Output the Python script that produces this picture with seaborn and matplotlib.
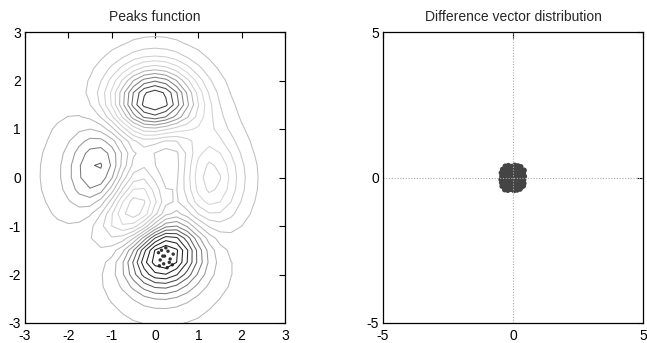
import numpy as np
import matplotlib
matplotlib.use("Agg")
import matplotlib.pyplot as plt
import seaborn as sns

sns.set_theme(style="white")
plt.rcParams["font.family"] = ["Liberation Sans", "DejaVu Sans"]
plt.rcParams["axes.unicode_minus"] = False

# --- data ---
GRID_N = 25          # resolution of the peaks surface
N_LEVELS = 20        # number of contour levels
LEFT_TICKS = [-3, -2, -1, 0, 1, 2, 3]
RIGHT_TICKS = [-5, 0, 5]

# population sitting in the global minimum of the peaks surface
swarm_x = [0.08, 0.15, 0.22, 0.12, 0.30, 0.35, 0.20, 0.40, 0.28, 0.10, 0.42, 0.18, 0.33, 0.25]
swarm_y = [-1.55, -1.50, -1.62, -1.70, -1.52, -1.68, -1.78, -1.80, -1.86, -1.82, -1.58, -1.62, -1.75, -1.45]

# difference vectors between population members
diff_x = [
    -0.30, -0.18, -0.05, 0.07, 0.19, 0.30,
    -0.40, -0.27, -0.16, -0.03, 0.09, 0.21, 0.33, 0.43,
    -0.45, -0.33, -0.20, -0.08, 0.04, 0.16, 0.28, 0.40,
    -0.43, -0.30, -0.18, -0.06, 0.07, 0.19, 0.31, 0.44,
    -0.46, -0.34, -0.22, -0.09, 0.03, 0.15, 0.27, 0.41,
    -0.44, -0.31, -0.19, -0.06, 0.06, 0.18, 0.30, 0.42,
    -0.42, -0.29, -0.16, -0.04, 0.09, 0.21, 0.33, 0.40,
    -0.32, -0.20, -0.08, 0.04, 0.16, 0.27,
]
diff_y = [
    0.39, 0.41, 0.38, 0.42, 0.40, 0.37,
    0.28, 0.31, 0.27, 0.30, 0.29, 0.32, 0.27, 0.25,
    0.16, 0.18, 0.15, 0.19, 0.17, 0.14, 0.18, 0.16,
    0.05, 0.03, 0.07, 0.04, 0.06, 0.02, 0.05, 0.04,
    -0.07, -0.05, -0.08, -0.06, -0.09, -0.05, -0.07, -0.08,
    -0.18, -0.21, -0.17, -0.20, -0.19, -0.22, -0.18, -0.20,
    -0.30, -0.32, -0.29, -0.33, -0.31, -0.30, -0.33, -0.29,
    -0.42, -0.44, -0.41, -0.45, -0.43, -0.40,
]


def peaks(n):
    v = np.linspace(-3, 3, n)
    X, Y = np.meshgrid(v, v)
    Z = (3 * (1 - X) ** 2 * np.exp(-X ** 2 - (Y + 1) ** 2)
         - 10 * (X / 5 - X ** 3 - Y ** 5) * np.exp(-X ** 2 - Y ** 2)
         - 1 / 3 * np.exp(-(X + 1) ** 2 - Y ** 2))
    return X, Y, Z


def style_axes(ax, ticks):
    ax.set_xlim(ticks[0], ticks[-1])
    ax.set_ylim(ticks[0], ticks[-1])
    ax.set_xticks(ticks)
    ax.set_yticks(ticks)
    ax.tick_params(direction="in", length=4, width=0.8, top=True, right=True,
                   labelsize=10, colors="black")
    ax.tick_params(axis="x", pad=4)
    ax.tick_params(axis="y", pad=3)
    for s in ax.spines.values():
        s.set_color("black")
        s.set_linewidth(0.9)


fig = plt.figure(figsize=(6.47, 3.43), dpi=100)
ax1 = fig.add_axes([25 / 647, 1 - 323 / 343, 260 / 647, 291 / 343])
ax2 = fig.add_axes([383 / 647, 1 - 323 / 343, 260 / 647, 291 / 343])

# --- left: contour map, jet colours seen in grayscale ---
X, Y, Z = peaks(GRID_N)
levels = np.linspace(Z.min(), Z.max(), N_LEVELS + 2)[1:-1]
jet = plt.get_cmap("jet")
t = (levels - Z.min()) / (Z.max() - Z.min())
rgb = jet(t)[:, :3]
lum = 0.299 * rgb[:, 0] + 0.587 * rgb[:, 1] + 0.114 * rgb[:, 2]
grays = [str(min(0.02 + 0.95 * l, 0.85)) for l in lum]
ax1.contour(X, Y, Z, levels=levels, colors=grays, linewidths=0.75)
sns.scatterplot(x=swarm_x, y=swarm_y, ax=ax1, color="#333333", s=6,
                edgecolor="none", legend=False)
style_axes(ax1, LEFT_TICKS)
ax1.set_title("Peaks function", fontsize=10, pad=8)

# --- right: difference vectors ---
ax2.axhline(0, color="#aaaaaa", lw=0.8, ls=(0, (1, 1.5)))
ax2.axvline(0, color="#aaaaaa", lw=0.8, ls=(0, (1, 1.5)))
sns.scatterplot(x=diff_x, y=diff_y, ax=ax2, color="#444444", s=15,
                edgecolor="none", legend=False)
style_axes(ax2, RIGHT_TICKS)
ax2.set_title("Difference vector distribution", fontsize=10, pad=8)

fig.savefig("out.png", dpi=100)
plt.close(fig)
